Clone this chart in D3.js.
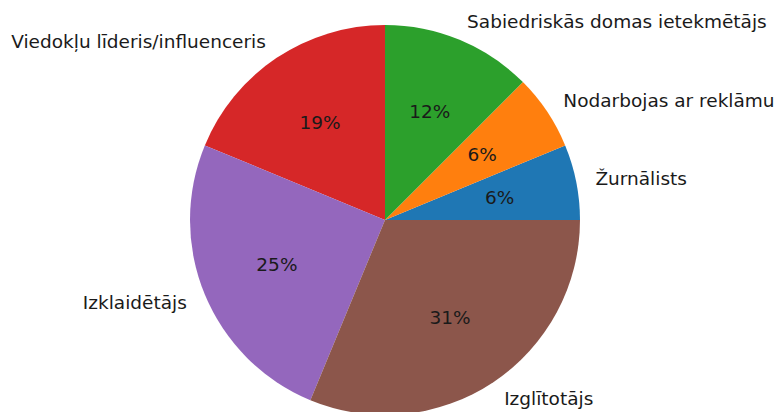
<!DOCTYPE html>
<html>
<head>
<meta charset="utf-8">
<script src="https://cdn.jsdelivr.net/npm/d3@7"></script>
<style>
  body { margin: 0; background: #fff; }
  text { font-family: "DejaVu Sans", sans-serif; fill: #1a1a1a; }
</style>
</head>
<body>
<div id="chart"></div>
<script>
// Slice labels and counts (matplotlib order, counter-clockwise from 3 o'clock)
var labels = ['Žurnālists', 'Nodarbojas ar reklāmu', 'Sabiedriskās domas ietekmētājs',
              'Viedokļu līderis/influenceris', 'Izklaidētājs', 'Izglītotājs'];
var counts = [1, 1, 2, 3, 4, 5];
var colors = ['#1f77b4', '#ff7f0e', '#2ca02c', '#d62728', '#9467bd', '#8c564b'];

var width = 776, height = 412;
var cx = 385, cy = 220, r = 195;

var svg = d3.select('#chart')
            .append('svg')
            .attr('width', width)
            .attr('height', height)
            .append('g')
            .attr('transform', 'translate(' + cx + ',' + cy + ')');

var data = labels.map(function(d, i) { return {label: d, value: counts[i], color: colors[i]}; });
var total = d3.sum(counts);

// start at 3 o'clock and go counter-clockwise
var pie = d3.pie()
            .sort(null)
            .value(function(d) { return d.value; })
            .startAngle(Math.PI / 2)
            .endAngle(Math.PI / 2 - 2 * Math.PI);

var arc = d3.arc().innerRadius(0).outerRadius(r);

var slices = pie(data);

svg.selectAll('path')
   .data(slices)
   .enter()
   .append('path')
   .attr('d', arc)
   .attr('fill', function(d) { return d.data.color; });

function pos(d, k) {
  var a = (d.startAngle + d.endAngle) / 2;
  return [k * r * Math.sin(a), -k * r * Math.cos(a)];
}

// outer labels
svg.selectAll('text.label')
   .data(slices)
   .enter()
   .append('text')
   .attr('class', 'label')
   .attr('x', function(d) { return pos(d, 1.1)[0]; })
   .attr('y', function(d) { return pos(d, 1.1)[1]; })
   .attr('dy', '0.35em')
   .style('font-size', '18.5px')
   .style('text-anchor', function(d) { return pos(d, 1.1)[0] >= 0 ? 'start' : 'end'; })
   .text(function(d) { return d.data.label; });

// percentage labels
svg.selectAll('text.pct')
   .data(slices)
   .enter()
   .append('text')
   .attr('class', 'pct')
   .attr('x', function(d) { return pos(d, 0.6)[0]; })
   .attr('y', function(d) { return pos(d, 0.6)[1]; })
   .attr('dy', '0.35em')
   .style('font-size', '18.5px')
   .style('text-anchor', 'middle')
   .text(function(d) { return Math.round(d.data.value / total * 100 - 0.001) + '%'; });
</script>
</body>
</html>
